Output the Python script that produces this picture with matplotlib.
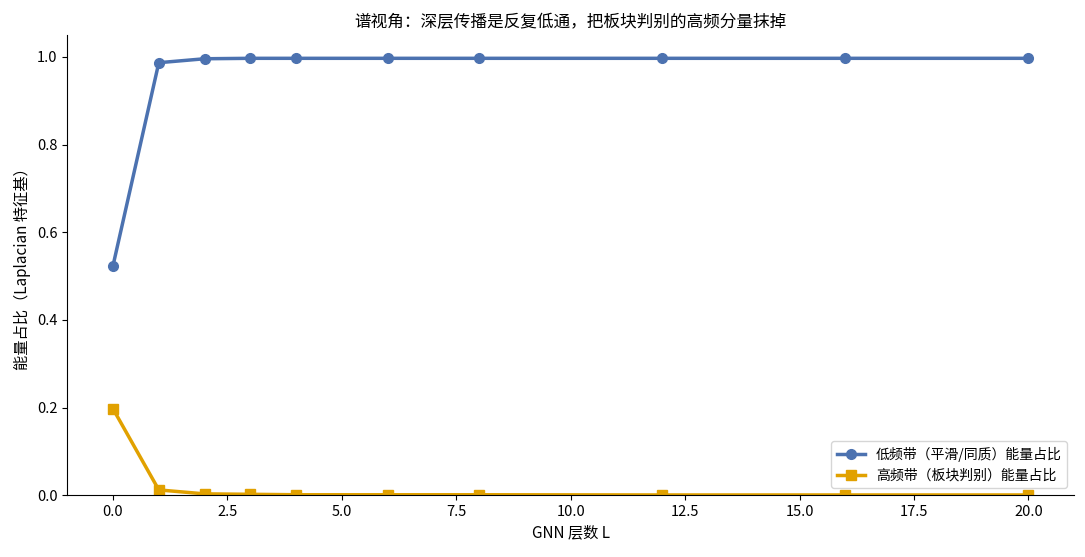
import matplotlib
matplotlib.use("Agg")
import matplotlib.pyplot as plt

plt.rcParams['font.family'] = ['Noto Sans CJK SC', 'DejaVu Sans']
plt.rcParams['axes.unicode_minus'] = False

layers = [0, 1, 2, 3, 4, 6, 8, 12, 16, 20]
low_band = [0.524, 0.987, 0.996, 0.997, 0.997, 0.997, 0.997, 0.997, 0.997, 0.997]
high_band = [0.197, 0.012, 0.003, 0.002, 0.001, 0.001, 0.001, 0.0005, 0.0005, 0.0005]

fig, ax = plt.subplots(figsize=(10.85, 5.57), dpi=100)
ax.plot(layers, low_band, marker="o", color="#4C72B0", lw=2.5, ms=7,
        label="低频带（平滑/同质）能量占比")
ax.plot(layers, high_band, marker="s", color="#E1A100", lw=2.5, ms=7,
        label="高频带（板块判别）能量占比")

ax.set_ylim(0, 1.05)
ax.set_xlim(-1, 21)
ax.set_xlabel("GNN 层数 L", fontsize=11)
ax.set_ylabel("能量占比（Laplacian 特征基）", fontsize=11)
ax.set_title("谱视角：深层传播是反复低通，把板块判别的高频分量抹掉", fontsize=12)
ax.spines["top"].set_visible(False)
ax.spines["right"].set_visible(False)
ax.tick_params(labelsize=10.5)
ax.legend(loc="lower right", fontsize=10)

fig.subplots_adjust(left=0.062, right=0.990, top=0.937, bottom=0.111)
fig.savefig("out.png", dpi=100)
